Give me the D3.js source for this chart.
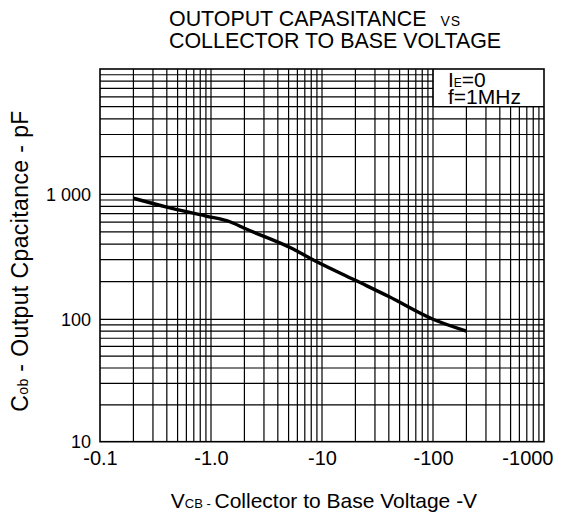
<!DOCTYPE html>
<html><head><meta charset="utf-8">
<script src="https://cdn.jsdelivr.net/npm/d3@7/dist/d3.min.js"></script>
<style>
html,body{margin:0;padding:0;background:#fff;}
text{font-family:"Liberation Sans",Arial,sans-serif;fill:#000;}
</style></head>
<body><svg id="c" width="565" height="515"></svg>
<script>
// data
const vcb = [0.2, 0.4, 0.9, 1.5, 2, 5.5, 7.8, 20, 40, 100, 200];
const cob = [930, 790, 670, 600, 535, 365, 308, 205, 152, 100, 80];
const xTickValues = [0.1, 1, 10, 100, 1000];
const xTickLabels = ["-0.1", "-1.0", "-10", "-100", "-1000"];
const yTickValues = [10, 100, 1000];
const yTickLabels = ["10", "100", "1 000"];

const svg = d3.select("#c");
const x = d3.scaleLog().domain([0.1, 1000]).range([100, 544]);
// the printed grid's decades are slightly uneven: piecewise log scale
const y = d3.scaleLog().domain([10, 100, 1000, 10000]).range([441.7, 319.3, 194.3, 69]);

// grid values
const xGrid = [], yGrid = [];
for (let e = -1; e <= 2; e++) for (let k = 1; k <= 9; k++) xGrid.push(k * Math.pow(10, e));
for (let e = 1; e <= 3; e++) for (let k = 1; k <= 9; k++) yGrid.push(k * Math.pow(10, e));

const noteX = 100, noteY = 5000; // note box lower-left corner in data units
const gw = 1.2;
const g = svg.append("g");
g.selectAll("line.v").data(xGrid.slice(1)).join("line")
  .attr("x1", d => x(d)).attr("x2", d => x(d))
  .attr("y1", y(10)).attr("y2", d => d > noteX ? y(noteY) : y(10000))
  .attr("stroke", "#000").attr("stroke-width", gw);
g.selectAll("line.h").data(yGrid.slice(1)).join("line")
  .attr("y1", d => y(d)).attr("y2", d => y(d))
  .attr("x1", x(0.1)).attr("x2", d => d > noteY ? x(noteX) : x(1000))
  .attr("stroke", "#000").attr("stroke-width", gw);
// note box lines
g.append("line").attr("x1", x(noteX)).attr("x2", x(noteX)).attr("y1", y(10000)).attr("y2", y(noteY)).attr("stroke", "#000").attr("stroke-width", gw);
g.append("line").attr("x1", x(noteX)).attr("x2", x(1000)).attr("y1", y(noteY)).attr("y2", y(noteY)).attr("stroke", "#000").attr("stroke-width", gw);
// frame
g.append("rect").attr("x", x(0.1)).attr("y", y(10000)).attr("width", x(1000) - x(0.1)).attr("height", y(10) - y(10000))
  .attr("fill", "none").attr("stroke", "#000").attr("stroke-width", 1.6);

// curve
const pts = vcb.map((v, i) => [x(v), y(cob[i])]);
svg.append("path").attr("d", d3.line().curve(d3.curveMonotoneX)(pts))
  .attr("fill", "none").attr("stroke", "#000").attr("stroke-width", 3.4).attr("stroke-linejoin", "round");

// axes labels
const xa = svg.append("g").attr("transform", `translate(0,${y(10)})`)
  .call(d3.axisBottom(x).tickValues(xTickValues).tickSize(0).tickPadding(9)
    .tickFormat((d, i) => xTickLabels[i]));
xa.select(".domain").remove();
xa.selectAll("text").style("font-size", "20px").attr("font-family", null);
xa.selectAll("text").filter(d => d === 1000).attr("text-anchor", "end").attr("dx", 9);
const ya = svg.append("g").attr("transform", `translate(${x(0.1)},0)`)
  .call(d3.axisLeft(y).tickValues(yTickValues).tickSize(0).tickPadding(9)
    .tickFormat((d, i) => yTickLabels[i]));
ya.select(".domain").remove();
ya.selectAll("text").style("font-size", "18px").attr("font-family", null);

// note
const note = svg.append("text").attr("x", 448).attr("y", 87).style("font-size", "21px");
note.append("tspan").text("I");
note.append("tspan").style("font-size", "12px").text("E");
note.append("tspan").text("=0");
svg.append("text").attr("x", 448).attr("y", 104).style("font-size", "21px").text("f=1MHz");

// title
const t1 = svg.append("text").attr("x", 169).attr("y", 26).style("font-size", "21.4px");
t1.append("tspan").text("OUTOPUT CAPASITANCE");
t1.append("tspan").attr("dx", 14).style("font-size", "14px").style("letter-spacing", "1px").text("VS");
svg.append("text").attr("x", 169).attr("y", 48).style("font-size", "21.4px").text("COLLECTOR TO BASE VOLTAGE");

// x title
const xt = svg.append("text").attr("x", 324).attr("y", 508).attr("text-anchor", "middle").style("font-size", "21px");
xt.append("tspan").text("V");
xt.append("tspan").style("font-size", "13px").text("CB - ");
xt.append("tspan").text("Collector to Base Voltage -V");

// y title
const yt = svg.append("text").attr("transform", "translate(28,261) rotate(-90)").attr("text-anchor", "middle")
  .style("font-size", "23px").style("letter-spacing", "0.4px");
yt.append("tspan").text("C");
yt.append("tspan").style("font-size", "14px").text("ob");
yt.append("tspan").text(" - Output Cpacitance - pF");
</script></body></html>
